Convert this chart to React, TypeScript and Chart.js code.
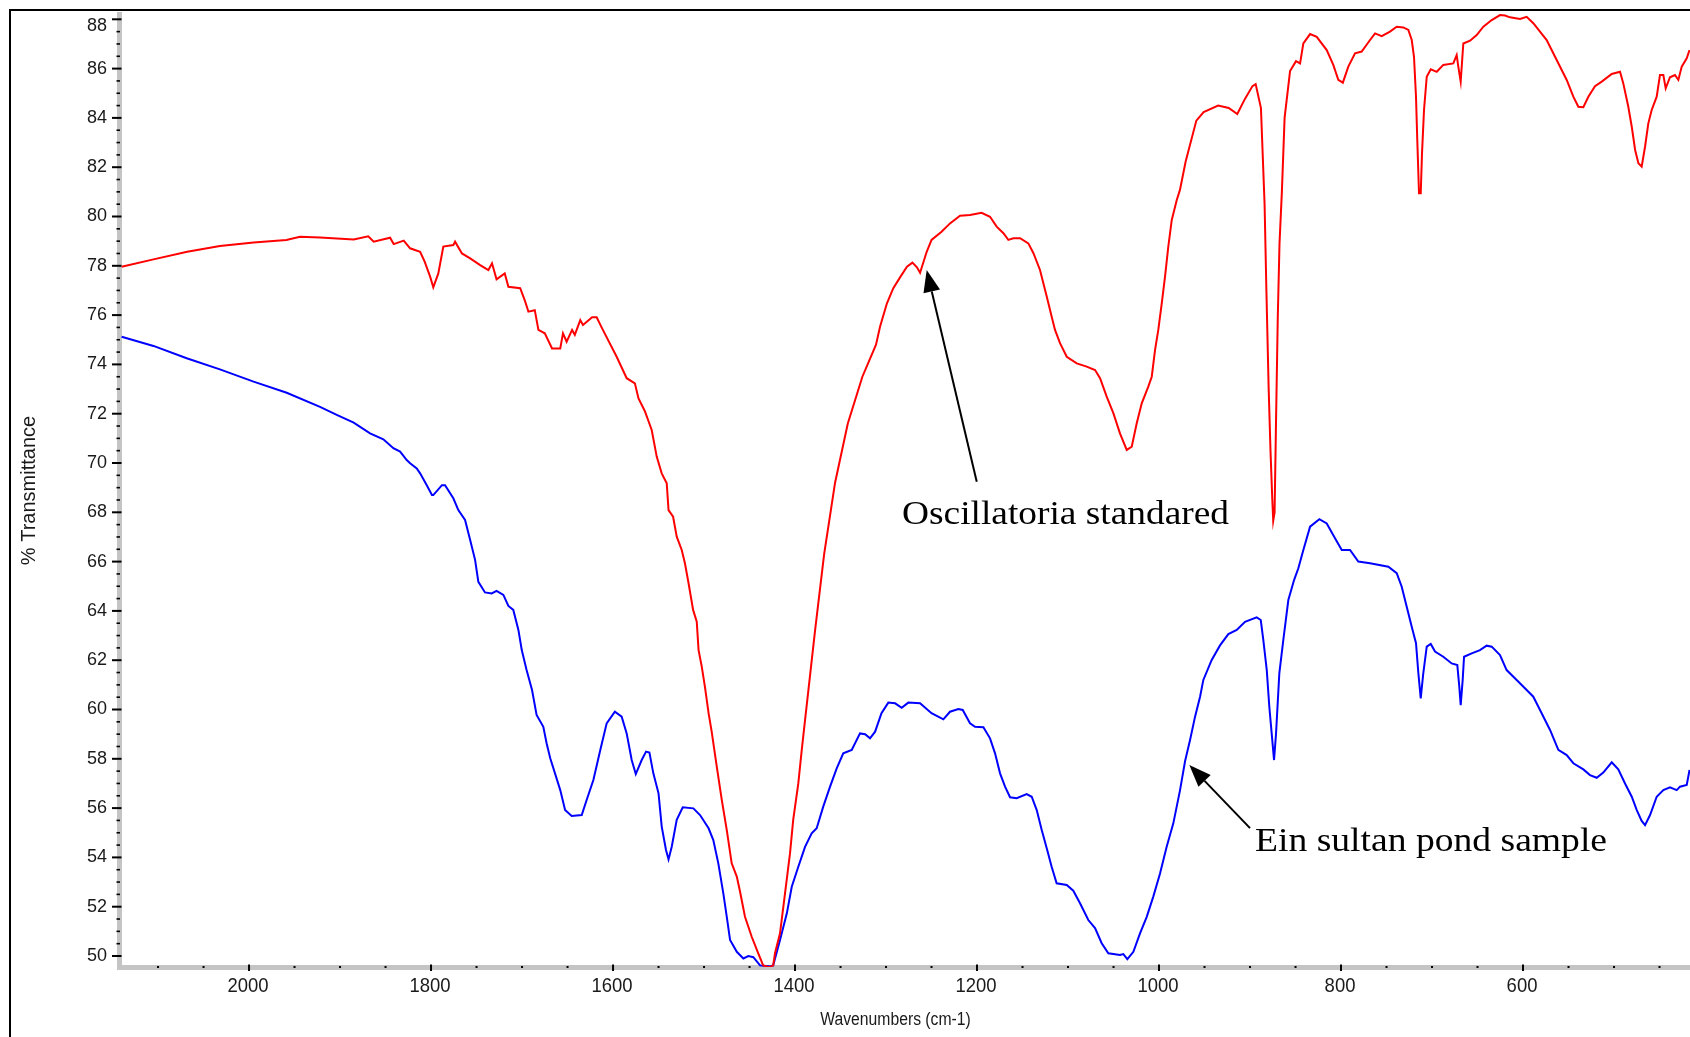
import { useEffect, useRef } from 'react';
import { Chart, registerables } from 'chart.js';

Chart.register(...registerables);

// ---------- data ----------
const seriesLabels = ['Oscillatoria standared', 'Ein sultan pond sample'];
const xAxisTitle = 'Wavenumbers (cm-1)';
const yAxisTitle = '% Transmittance';

const redWavenumbers = [
  2140, 2105, 2068, 2032, 1995, 1959, 1944, 1922, 1885, 1869,
  1863, 1845, 1841, 1830, 1823, 1812, 1807, 1801, 1797.5, 1792,
  1786.5, 1775.5, 1773.6, 1766, 1757, 1746, 1737, 1733, 1728, 1719,
  1715, 1702, 1697, 1693, 1686, 1682, 1675, 1667, 1658, 1655,
  1651, 1645, 1642, 1636, 1633, 1623, 1618, 1612, 1596, 1585,
  1576, 1572, 1565, 1557.5, 1552, 1546.5, 1541, 1539, 1534, 1530,
  1524.5, 1521, 1517, 1512, 1508, 1506, 1502.5, 1499, 1495, 1491.6,
  1486, 1480.5, 1475, 1469.6, 1464, 1460.4, 1455, 1447.6, 1440.4, 1435,
  1428, 1424, 1422, 1416.5, 1411, 1405.5, 1402, 1396.4, 1392.6, 1389,
  1386.5, 1378, 1368, 1356, 1342, 1326, 1311, 1306.6, 1299, 1292,
  1284.6, 1277, 1271, 1266, 1262.6, 1255.3, 1250, 1239, 1229.7, 1218.7,
  1207.7, 1195, 1185.7, 1178.4, 1171, 1165.6, 1160, 1152.7, 1143.6, 1138,
  1130.8, 1123.4, 1118, 1114.3, 1108.8, 1101.4, 1090.4, 1079.5, 1070.3, 1064.8,
  1057.5, 1050.2, 1042.9, 1035.5, 1030, 1024.5, 1019, 1011.8, 1008, 1004.4,
  1000.8, 997, 993.4, 989.8, 986, 980.5, 977, 970.8, 959, 951,
  935, 923.4, 914, 905.6, 897.3, 893.8, 888, 884, 882, 879.5,
  877.5, 875.5, 874.5, 873, 871.5, 869.5, 867.6, 865, 862, 856,
  849.5, 845, 841.4, 834, 826.7, 815.7, 808.5, 803, 798, 792,
  784.6, 777.3, 768.1, 762.6, 755.3, 746.2, 738.8, 731.5, 726, 722.3,
  719.8, 717.6, 716.2, 714.3, 712.4, 711, 708.8, 705.8, 701.4, 694.8,
  687.6, 676.6, 672.9, 671.1, 668.5, 665.6, 658.2, 650.9, 643.6, 634.4,
  625.3, 619.8, 614.3, 603.3, 596, 588.7, 574, 563, 552, 544.7,
  539.2, 533.7, 528.2, 520.9, 513.5, 502.5, 493.4, 489.8, 484.3, 480.5,
  476.8, 473.2, 469.6, 465.9, 462.3, 458.6, 453.1, 449.5, 445.8, 443.2,
  438.5, 433, 429.3, 425.6, 420.1, 417,
];
const redTransmittance = [
  77.96, 78.26, 78.57, 78.8, 78.95, 79.05, 79.18, 79.15, 79.07, 79.2,
  78.98, 79.14, 78.88, 79.02, 78.71, 78.57, 78.17, 77.56, 77.13, 77.69,
  78.78, 78.84, 78.98, 78.5, 78.3, 78.03, 77.83, 78.1, 77.45, 77.69,
  77.15, 77.09, 76.6, 76.14, 76.2, 75.4, 75.26, 74.65, 74.65, 75.26,
  74.92, 75.4, 75.2, 75.8, 75.6, 75.91, 75.91, 75.46, 74.31, 73.44,
  73.23, 72.62, 72.1, 71.34, 70.26, 69.58, 69.18, 68.09, 67.82, 67.01,
  66.47, 65.93, 65.12, 64.04, 63.56, 62.41, 61.74, 60.92, 59.85, 59.1,
  57.68, 56.33, 55.11, 53.76, 53.22, 52.61, 51.59, 50.78, 50.11, 49.62,
  49.55, 49.62, 50.11, 50.92, 52.54, 54.17, 55.52, 57.0, 58.36, 59.57,
  60.39, 63.2, 66.3, 69.2, 71.6, 73.5, 74.8, 75.53, 76.48, 77.09,
  77.53, 77.96, 78.13, 77.94, 77.72, 78.57, 79.05, 79.38, 79.72, 80.03,
  80.06, 80.15, 79.99, 79.59, 79.32, 79.05, 79.12, 79.12, 78.91, 78.51,
  77.83, 76.75, 75.94, 75.4, 74.86, 74.31, 74.04, 73.91, 73.77, 73.44,
  72.69, 72.02, 71.2, 70.53, 70.66, 71.61, 72.42, 73.1, 73.5, 74.58,
  75.4, 76.48, 77.56, 78.78, 79.86, 80.67, 81.08, 82.22, 83.89, 84.24,
  84.5, 84.4, 84.16, 84.77, 85.29, 85.37, 84.4, 80.5, 77.0, 73.0,
  70.5, 68.5, 67.66, 68.0, 71.5, 75.9, 78.9, 81.0, 84.0, 85.9,
  86.3, 86.21, 87.02, 87.4, 87.29, 86.75, 86.15, 85.54, 85.43, 86.08,
  86.62, 86.69, 87.16, 87.43, 87.32, 87.5, 87.7, 87.67, 87.57, 87.16,
  86.48, 84.86, 83.1, 80.94, 80.94, 82.56, 84.32, 85.67, 85.97, 85.87,
  86.15, 86.21, 86.55, 86.08, 85.47, 87.02, 87.13, 87.36, 87.7, 87.97,
  88.17, 88.15, 88.08, 88.01, 88.1, 87.84, 87.16, 86.35, 85.54, 84.86,
  84.45, 84.43, 84.86, 85.29, 85.47, 85.78, 85.87, 85.4, 84.45, 83.64,
  82.7, 82.16, 82.02, 82.83, 83.78, 84.32, 84.86, 85.74, 85.74, 85.2,
  85.65, 85.74, 85.54, 86.08, 86.42, 86.75,
];

const blueWavenumbers = [
  2140, 2105, 2068.5, 2032, 1995, 1958.6, 1922, 1903.6, 1885, 1867,
  1852.4, 1841.4, 1834, 1826.7, 1823, 1815.7, 1812, 1804.7, 1799, 1797.5,
  1788, 1784.6, 1775.5, 1770, 1762.6, 1757, 1751.6, 1748, 1740.7, 1733.3,
  1728, 1720.5, 1715, 1709.6, 1704, 1700.3, 1695, 1689, 1684, 1676.6,
  1673, 1669, 1658, 1652.7, 1645.4, 1634.4, 1629, 1621.6, 1614, 1607,
  1598, 1590.5, 1585, 1579.5, 1575, 1568.5, 1563.7, 1560, 1555.7, 1550,
  1546.5, 1541.8, 1539, 1535.5, 1530, 1523.4, 1511.7, 1504.4, 1495, 1489.8,
  1484.3, 1478.8, 1475, 1471.4, 1464, 1456.8, 1451.3, 1445.8, 1438.5, 1428,
  1424, 1416.5, 1409, 1403.6, 1396.4, 1389, 1381.7, 1376.2, 1369, 1361.5,
  1354.2, 1347, 1337.7, 1328.6, 1323, 1317.6, 1312, 1305, 1297.5, 1290,
  1282.8, 1275.5, 1262.6, 1250, 1237, 1229.7, 1220.5, 1215.7, 1207.7, 1202.2,
  1193, 1185.7, 1180.2, 1174.7, 1169.2, 1163.7, 1156.4, 1145.4, 1139.9, 1134.4,
  1128.9, 1123.4, 1118, 1112.5, 1101.4, 1094.2, 1086.8, 1077.7, 1070.3, 1063,
  1055.7, 1042.9, 1039.2, 1034.8, 1028.2, 1020.9, 1013.5, 1006.3, 998.9, 991.6,
  984.3, 976.9, 971.4, 965.9, 960.4, 954.9, 951.3, 942.1, 933, 923.8,
  914.6, 905.5, 892.7, 888.2, 885.4, 881.6, 878.8, 876.2, 873.6, 871.4,
  867.8, 863.4, 857.9, 851.6, 846.9, 841.4, 834, 823.8, 815.7, 806.6,
  799.2, 790.1, 781, 768.1, 748, 738.8, 733.3, 727.8, 722.3, 717.6,
  715, 712.4, 709.6, 705.8, 701.4, 696.7, 687.6, 678.4, 672.2, 670,
  668.5, 666.3, 664.8, 656.4, 647.3, 640, 634.4, 625.3, 618, 607,
  596, 588.7, 581.3, 570.3, 561.2, 552, 544.7, 533.7, 526.4, 519,
  511.8, 502.5, 495.3, 487.9, 480.5, 475, 469.6, 465.9, 460.4, 453.1,
  445.8, 438.5, 431.1, 427.5, 420.1, 417,
];
const blueTransmittance = [
  75.12, 74.75, 74.25, 73.8, 73.3, 72.85, 72.28, 71.95, 71.64, 71.2,
  70.96, 70.6, 70.46, 70.12, 69.99, 69.78, 69.58, 69.1, 68.7, 68.7,
  69.1, 69.1, 68.57, 68.09, 67.69, 66.88, 66.07, 65.18, 64.75, 64.71,
  64.81, 64.65, 64.2, 64.04, 63.23, 62.41, 61.6, 60.79, 59.78, 59.3,
  58.63, 58.02, 56.73, 55.92, 55.68, 55.72, 56.33, 57.14, 58.36, 59.44,
  59.91, 59.71, 59.03, 57.95, 57.38, 57.95, 58.29, 58.25, 57.41, 56.6,
  55.25, 54.3, 53.92, 54.43, 55.52, 56.03, 55.99, 55.72, 55.18, 54.7,
  53.76, 52.54, 51.59, 50.65, 50.17, 49.9, 50.0, 49.95, 49.62, 49.58,
  49.62, 50.65, 51.73, 52.81, 53.62, 54.43, 54.98, 55.18, 56.06, 56.87,
  57.61, 58.22, 58.36, 59.03, 59.0, 58.83, 59.1, 59.85, 60.28, 60.25,
  60.07, 60.28, 60.25, 59.85, 59.6, 59.91, 60.02, 59.98, 59.44, 59.3,
  59.28, 58.83, 58.22, 57.41, 56.87, 56.44, 56.4, 56.57, 56.46, 55.92,
  55.11, 54.37, 53.62, 52.95, 52.88, 52.65, 52.14, 51.46, 51.13, 50.52,
  50.11, 50.04, 50.08, 49.87, 50.17, 50.92, 51.59, 52.41, 53.35, 54.43,
  55.38, 56.73, 57.9, 58.76, 59.71, 60.52, 61.2, 62.01, 62.6, 63.06,
  63.23, 63.56, 63.74, 63.63, 62.82, 61.6, 60.11, 59.03, 57.95, 59.03,
  61.47, 62.82, 64.44, 65.25, 65.73, 66.47, 67.42, 67.72, 67.55, 66.95,
  66.47, 66.47, 66.0, 65.93, 65.79, 65.53, 64.98, 64.17, 63.36, 62.69,
  61.47, 60.45, 61.47, 62.55, 62.66, 62.35, 62.14, 61.87, 61.8, 60.92,
  60.18, 61.2, 62.14, 62.28, 62.41, 62.59, 62.55, 62.21, 61.6, 61.2,
  60.79, 60.52, 59.98, 59.17, 58.36, 58.15, 57.82, 57.57, 57.34, 57.23,
  57.44, 57.86, 57.57, 57.0, 56.46, 55.92, 55.48, 55.31, 55.72, 56.46,
  56.73, 56.84, 56.73, 56.87, 56.94, 57.55,
];

// axis ranges and tick steps
const xRange = [416.5, 2142.9];
const yRange = [49.554, 88.215];
const xMajorStep = 200;
const xMinorStep = 50;
const yMajorStep = 2;
const yMinorStep = 0.5;

// annotation anchors in data coordinates [wavenumber, %T]
const annotationTextAnchors = [[1282.4, 67.53], [894.5, 54.26]];
const arrowTails = [[1200.3, 69.24], [900, 55.19]];
const arrowTips = [[1255.3, 77.83], [966.7, 57.75]];

// ---------- styling ----------
const SANS = "'Liberation Sans', Arial, sans-serif";
const SERIF = "'Liberation Serif', 'Times New Roman', serif";
const annotationTextWidths = [327, 352];
const LABEL_COLOR = '#1a1a1a';

function drawScaledText(
  ctx: CanvasRenderingContext2D,
  text: string,
  x: number,
  y: number,
  sx: number,
  align: CanvasTextAlign,
  rotate = 0
) {
  ctx.save();
  ctx.translate(x, y);
  if (rotate) ctx.rotate(rotate);
  ctx.scale(sx, 1);
  ctx.textAlign = align;
  ctx.fillText(text, 0, 0);
  ctx.restore();
}

const axisDecor = {
  id: 'axisDecor',
  beforeDatasetsDraw(chart: any) {
    const ctx = chart.ctx;
    const xs = chart.scales.x;
    const ys = chart.scales.y;
    const { left, bottom, top, right } = chart.chartArea;
    ctx.save();
    ctx.strokeStyle = '#000';
    ctx.fillStyle = '#000';
    // y ticks: major every 2, minor every 0.5
    const yStart = Math.ceil(ys.min / yMinorStep) * yMinorStep;
    for (let v = yStart; v <= ys.max + 1e-9; v += yMinorStep) {
      const y = ys.getPixelForValue(v);
      const major = Math.abs(v / yMajorStep - Math.round(v / yMajorStep)) < 1e-6;
      ctx.lineWidth = major ? 2 : 1.6;
      ctx.beginPath();
      ctx.moveTo(major ? left - 7 : left - 2.5, y);
      ctx.lineTo(major ? left + 2.5 : left + 1, y);
      ctx.stroke();
    }
    // x ticks: major every 200, minor every 50
    const xStart = Math.ceil(xs.min / xMinorStep) * xMinorStep;
    for (let w = xStart; w <= xs.max; w += xMinorStep) {
      const x = xs.getPixelForValue(w);
      if (w % xMajorStep === 0) {
        ctx.lineWidth = 2;
        ctx.beginPath();
        ctx.moveTo(x, bottom - 2.5);
        ctx.lineTo(x, bottom + 4);
        ctx.stroke();
      } else {
        ctx.fillRect(x - 1, bottom - 1, 2, 2);
      }
    }

    // tick labels
    ctx.fillStyle = LABEL_COLOR;
    ctx.textBaseline = 'middle';
    ctx.font = `18px ${SANS}`;
    for (const t of ys.ticks) {
      const y = Math.max(ys.getPixelForValue(t.value), top + 12);
      drawScaledText(ctx, String(t.value), left - 12, y, 1, 'right');
    }
    ctx.font = `21px ${SANS}`;
    for (const t of xs.ticks) {
      const x = xs.getPixelForValue(t.value);
      drawScaledText(ctx, String(t.value), x - 1, bottom + 19, 0.88, 'center');
    }

    // axis titles
    ctx.font = `18px ${SANS}`;
    drawScaledText(ctx, xAxisTitle, (left + right) / 2 - 9, bottom + 53, 0.873, 'center');
    ctx.font = `20px ${SANS}`;
    drawScaledText(ctx, yAxisTitle, 29, (top + bottom) / 2, 1, 'center', -Math.PI / 2);
    ctx.restore();
  },
};

function drawArrow(ctx: CanvasRenderingContext2D, x1: number, y1: number, x2: number, y2: number) {
  const ang = Math.atan2(y2 - y1, x2 - x1);
  const headLen = 22;
  const headW = 8.5;
  const c = Math.cos(ang);
  const s = Math.sin(ang);
  const bx = x2 - headLen * c;
  const by = y2 - headLen * s;
  ctx.lineWidth = 2;
  ctx.beginPath();
  ctx.moveTo(x1, y1);
  ctx.lineTo(bx, by);
  ctx.stroke();
  ctx.beginPath();
  ctx.moveTo(x2, y2);
  ctx.lineTo(bx + headW * s, by - headW * c);
  ctx.lineTo(bx - headW * s, by + headW * c);
  ctx.closePath();
  ctx.fill();
}

const annotations = {
  id: 'annotations',
  afterDatasetsDraw(chart: any) {
    const ctx = chart.ctx;
    const xs = chart.scales.x;
    const ys = chart.scales.y;
    ctx.save();
    ctx.strokeStyle = '#000';
    ctx.fillStyle = '#000';
    for (let i = 0; i < seriesLabels.length; i++) {
      drawArrow(
        ctx,
        xs.getPixelForValue(arrowTails[i][0]),
        ys.getPixelForValue(arrowTails[i][1]),
        xs.getPixelForValue(arrowTips[i][0]),
        ys.getPixelForValue(arrowTips[i][1])
      );
      ctx.font = `34px ${SERIF}`;
      ctx.textBaseline = 'alphabetic';
      const tx = xs.getPixelForValue(annotationTextAnchors[i][0]);
      const ty = ys.getPixelForValue(annotationTextAnchors[i][1]);
      const measured = ctx.measureText(seriesLabels[i]).width;
      drawScaledText(ctx, seriesLabels[i], tx, ty, annotationTextWidths[i] / measured, 'left');
    }
    ctx.restore();
  },
};

export default function App() {
  const canvasRef = useRef<HTMLCanvasElement | null>(null);

  useEffect(() => {
    if (!canvasRef.current) return;
    const toPoints = (ws: number[], vs: number[]) => ws.map((w, i) => ({ x: w, y: vs[i] }));
    const chart = new Chart(canvasRef.current, {
      type: 'line',
      data: {
        datasets: [
          {
            label: seriesLabels[0],
            data: toPoints(redWavenumbers, redTransmittance),
            borderColor: '#ff0000',
            borderWidth: 2,
            pointRadius: 0,
            tension: 0,
            fill: false,
          },
          {
            label: seriesLabels[1],
            data: toPoints(blueWavenumbers, blueTransmittance),
            borderColor: '#0000ff',
            borderWidth: 2,
            pointRadius: 0,
            tension: 0,
            fill: false,
          },
        ],
      },
      options: {
        responsive: false,
        devicePixelRatio: 1,
        animation: false,
        events: [],
        layout: { padding: { top: 14, left: 0, right: 0, bottom: 0 } },
        plugins: { legend: { display: false }, tooltip: { enabled: false } },
        scales: {
          x: {
            type: 'linear',
            position: 'bottom',
            reverse: true,
            min: xRange[0],
            max: xRange[1],
            afterFit: (s: any) => {
              s.height = 70;
              s.paddingLeft = 0;
              s.paddingRight = 0;
            },
            ticks: {
              display: false,
              stepSize: xMajorStep,
              includeBounds: false,
              autoSkip: false,
              maxRotation: 0,
            },
            grid: { display: false, drawOnChartArea: false, drawTicks: false },
            border: { display: true, color: '#c4c4c4', width: 5 },
            title: { display: false },
          },
          y: {
            type: 'linear',
            position: 'left',
            min: yRange[0],
            max: yRange[1],
            afterFit: (s: any) => {
              s.width = 119;
              s.paddingTop = 0;
              s.paddingBottom = 0;
            },
            ticks: {
              display: false,
              stepSize: yMajorStep,
              includeBounds: false,
              autoSkip: false,
            },
            grid: { display: false, drawOnChartArea: false, drawTicks: false },
            border: { display: true, color: '#c4c4c4', width: 5 },
            title: { display: false },
          },
        },
      },
      plugins: [axisDecor, annotations],
    } as any);
    return () => chart.destroy();
  }, []);

  return (
    <>
      <div
        style={{
          position: 'absolute',
          left: 9,
          top: 9,
          width: 1681,
          height: 1028,
          borderLeft: '2px solid #000',
          borderTop: '2px solid #000',
          boxSizing: 'border-box',
        }}
      />
      <canvas
        ref={canvasRef}
        width={1690}
        height={1037}
        style={{ position: 'absolute', left: 0, top: 0, width: 1690, height: 1037 }}
      />
    </>
  );
}
